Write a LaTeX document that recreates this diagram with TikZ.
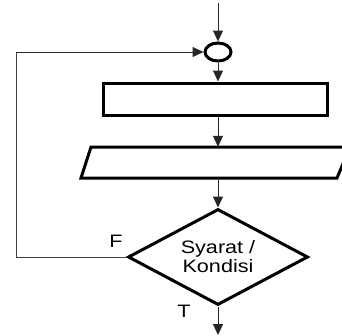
\documentclass[tikz,border=0pt]{standalone}
\usepackage{fontspec}
\setmainfont{Liberation Sans}
\usetikzlibrary{arrows.meta,shapes.geometric}
\tikzset{
  shapeline/.style={draw=black,line width=3pt},
  flow/.style={draw=black!85,line width=1pt,-{Triangle[length=11pt,width=10pt]}},
  plain/.style={draw=black!75,line width=1pt},
  lbl/.style={font=\fontsize{18}{20}\selectfont,inner sep=0pt}
}
\begin{document}
\begin{tikzpicture}[x=1pt,y=-1pt]
\useasboundingbox (0,0) rectangle (342,335);
\clip (0,0) rectangle (342,335);
% start and end points
\coordinate (start) at (218,3);
\coordinate (finish) at (218,335);
\coordinate (lt) at (16,52);
\coordinate (lb) at (16,257);
% connector circle
\node[shapeline,ellipse,minimum width=26pt,minimum height=18pt,inner sep=0pt] (join) at (218,52) {};
% process box
\node[shapeline,rectangle,minimum width=224pt,minimum height=32pt,inner sep=0pt] (proc) at (215,99) {};
% parallelogram (input/output)
\draw[shapeline] (91,147) -- (350,147) -- (337,178) -- (81,178) -- cycle;
\node[inner sep=0pt,minimum width=1pt,minimum height=31pt] (io) at (218,162.5) {};
% decision
\node[shapeline,diamond,shape aspect=1.875,minimum width=180pt,minimum height=96pt,inner sep=0pt,
      align=center,font=\fontsize{18}{20}\selectfont] (dec) at (218,257)
      {\scalebox{1.2}[1]{Syarat /}\\[-1pt]\scalebox{1.2}[1]{Kondisi}};
% connectors
\draw[flow] (start) -- (join.north);
\draw[flow] (join.south) -- (proc.north -| join);
\draw[flow] (proc.south -| join) -- (io.north);
\draw[flow] (io.south) -- (dec.north);
\draw[flow] (dec.south) -- (finish);
\draw[plain] (dec.west) -- (lb) -- (lt);
\draw[flow] (lt) -- (join.west);
% labels
\node[lbl] (F) at (116,241) {\scalebox{1.2}[1]{F}};
\node[lbl] (T) at (184,311) {\scalebox{1.2}[1]{T}};
\end{tikzpicture}
\end{document}
